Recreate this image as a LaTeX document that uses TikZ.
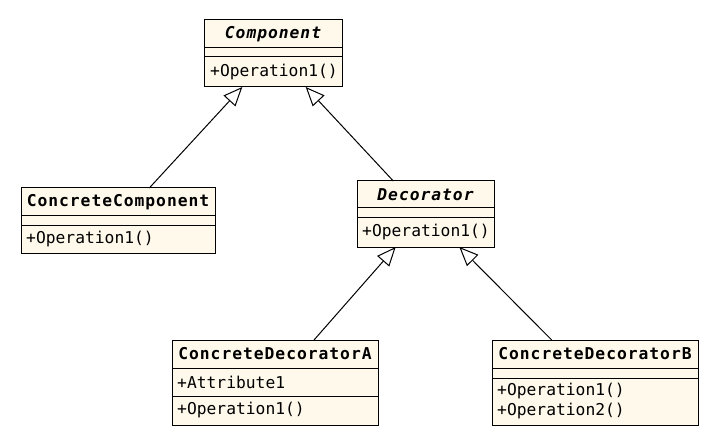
\documentclass[tikz,border=0pt]{standalone}
\usepackage{fontspec}
\setmonofont{DejaVu Sans Mono}
\usetikzlibrary{arrows.meta,calc}
\definecolor{classfill}{RGB}{255,249,236}
\newcommand{\classtitle}{\ttfamily\bfseries\addfontfeatures{LetterSpace=6}\fontsize{16.3}{19}\selectfont}
\newcommand{\classmember}{\ttfamily\fontsize{16.3}{19}\selectfont}
\begin{document}
\begin{tikzpicture}[x=1pt,y=-1pt,
  classbox/.style={draw=black,line width=1pt,fill=classfill,rectangle,anchor=north west,inner sep=0pt,outer sep=0pt},
  divider/.style={draw=black,line width=1pt},
  titletext/.style={font=\classtitle,inner sep=0pt,anchor=center},
  membertext/.style={font=\classmember,inner sep=0pt,anchor=west,align=left},
  inherits/.style={draw=black,line width=1pt,-{Triangle[open,length=19pt,width=16pt,fill=white]}}]
\useasboundingbox (0,0) rectangle (719,446);

% Component (abstract)
\node[classbox,minimum width=138pt,minimum height=67pt] (comp) at (204,20) {};
\draw[divider] ($(comp.north west)+(0,28)$) -- ++(138,0);
\draw[divider] ($(comp.north west)+(0,37)$) -- ++(138,0);
\node[titletext] (comp-t) at ($(comp.north)+(0,14)$) {\itshape Component};
\node[membertext] (comp-o) at ($(comp.north west)+(6,52)$) {+Operation1()};

% ConcreteComponent
\node[classbox,minimum width=194pt,minimum height=65pt] (cc) at (21,188) {};
\draw[divider] ($(cc.north west)+(0,28)$) -- ++(194,0);
\draw[divider] ($(cc.north west)+(0,37)$) -- ++(194,0);
\node[titletext] (cc-t) at ($(cc.north)+(0,14)$) {ConcreteComponent};
\node[membertext] (cc-o) at ($(cc.north west)+(5,51)$) {+Operation1()};

% Decorator (abstract)
\node[classbox,minimum width=137pt,minimum height=66pt] (dec) at (357,181) {};
\draw[divider] ($(dec.north west)+(0,27)$) -- ++(137,0);
\draw[divider] ($(dec.north west)+(0,37)$) -- ++(137,0);
\node[titletext] (dec-t) at ($(dec.north)+(0,13.5)$) {\itshape Decorator};
\node[membertext] (dec-o) at ($(dec.north west)+(5,51.5)$) {+Operation1()};

% ConcreteDecoratorA
\node[classbox,minimum width=206pt,minimum height=85pt] (cda) at (172,340) {};
\draw[divider] ($(cda.north west)+(0,28)$) -- ++(206,0);
\draw[divider] ($(cda.north west)+(0,56)$) -- ++(206,0);
\node[titletext] (cda-t) at ($(cda.north)+(0,14)$) {ConcreteDecoratorA};
\node[membertext] (cda-a) at ($(cda.north west)+(5,42)$) {+Attribute1};
\node[membertext] (cda-o) at ($(cda.north west)+(5,70)$) {+Operation1()};

% ConcreteDecoratorB
\node[classbox,minimum width=206pt,minimum height=85pt] (cdb) at (492,340) {};
\draw[divider] ($(cdb.north west)+(0,28)$) -- ++(206,0);
\draw[divider] ($(cdb.north west)+(0,38)$) -- ++(206,0);
\node[titletext] (cdb-t) at ($(cdb.north)+(0,14)$) {ConcreteDecoratorB};
\node[membertext] (cdb-o1) at ($(cdb.north west)+(5,51.5)$) {+Operation1()};
\node[membertext] (cdb-o2) at ($(cdb.north west)+(5,70.5)$) {+Operation2()};

% connector end points on the class borders
\coordinate (comp-in1) at ($(comp.north west)+(38.3,67)$);
\coordinate (comp-in2) at ($(comp.north west)+(101.7,67)$);
\coordinate (cc-out) at ($(cc.north west)+(128.3,0)$);
\coordinate (dec-out) at ($(dec.north west)+(36.3,0)$);
\coordinate (dec-in1) at ($(dec.north west)+(38.7,66)$);
\coordinate (dec-in2) at ($(dec.north west)+(102.3,66)$);
\coordinate (cda-out) at ($(cda.north west)+(142,0)$);
\coordinate (cdb-out) at ($(cdb.north west)+(59.7,0)$);

% generalisation arrows
\draw[inherits] (cc-out) -- (comp-in1);
\draw[inherits] (dec-out) -- (comp-in2);
\draw[inherits] (cda-out) -- (dec-in1);
\draw[inherits] (cdb-out) -- (dec-in2);
\end{tikzpicture}
\end{document}
